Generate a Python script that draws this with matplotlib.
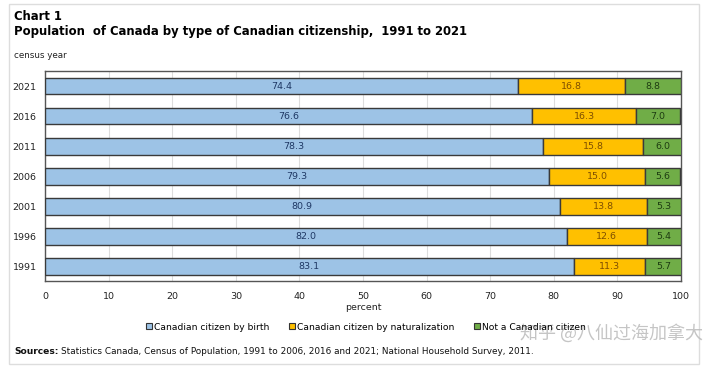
import matplotlib
matplotlib.use("Agg")
import matplotlib.pyplot as plt
from matplotlib.patches import Rectangle
from matplotlib.lines import Line2D

years = ["2021", "2016", "2011", "2006", "2001", "1996", "1991"]
by_birth = [74.4, 76.6, 78.3, 79.3, 80.9, 82.0, 83.1]
by_naturalization = [16.8, 16.3, 15.8, 15.0, 13.8, 12.6, 11.3]
not_citizen = [8.8, 7.0, 6.0, 5.6, 5.3, 5.4, 5.7]
series_names = ["Canadian citizen by birth", "Canadian citizen by naturalization", "Not a Canadian citizen"]
xticks = [0, 10, 20, 30, 40, 50, 60, 70, 80, 90, 100]

colors = ["#9DC3E6", "#FFC000", "#70AD47"]
text_colors = ["#1F3864", "#7F4F00", "#1E3D12"]

plt.rcParams['font.family'] = ['DejaVu Sans']
fig = plt.figure(figsize=(7.2, 3.68), dpi=100)
ax = fig.add_axes([45/720, 1-281/368, (681-45)/720, (281-70.7)/368])

ypos = list(range(len(years)))
left = [0]*len(years)
for vals, c, tc in zip([by_birth, by_naturalization, not_citizen], colors, text_colors):
    bars = ax.barh(ypos, vals, left=left, height=0.555, color=c, edgecolor="#3A3A3A", linewidth=1.0, zorder=3)
    for b, v, l in zip(bars, vals, left):
        ax.text(l + v/2, b.get_y() + b.get_height()/2, f"{v:.1f}", ha="center", va="center",
                fontsize=6.8, color=tc, zorder=4)
    left = [a + b for a, b in zip(left, vals)]

ax.set_xlim(0, 100)
ax.set_ylim(6.48, -0.51)
ax.set_yticks(ypos)
ax.set_yticklabels(years, fontsize=6.8, color="#222222")
ax.set_xticks(xticks)
ax.set_xticklabels([str(t) for t in xticks], fontsize=6.8, color="#222222")
ax.tick_params(length=0, pad=8)
ax.tick_params(axis='y', pad=6)
ax.grid(axis='x', color="#DDDDDD", linewidth=0.8, zorder=0)
for s in ax.spines.values():
    s.set_color("#555555")
    s.set_linewidth(1.0)

fig.text(14/720, 1-16/368, "Chart 1", fontsize=8.4, fontweight="bold", va="center", ha="left")
fig.text(14/720, 1-31/368, "Population  of Canada by type of Canadian citizenship,  1991 to 2021",
         fontsize=8.4, fontweight="bold", va="center", ha="left")
fig.text(14/720, 1-56/368, "census year", fontsize=6.3, va="center", ha="left", color="#222222")
fig.text(363/720, 1-308/368, "percent", fontsize=6.8, va="center", ha="center", color="#222222")

handles = [Line2D([0], [0], marker='s', linestyle='none', markersize=4.5,
                  markerfacecolor=c, markeredgecolor="#333333", markeredgewidth=0.8) for c in colors]
fig.legend(handles, series_names, loc="center", bbox_to_anchor=(366/720, 1-327/368), ncol=3,
           frameon=False, fontsize=6.6, handlelength=0.6, handletextpad=0.2, columnspacing=2.2)

src_bold = fig.text(14/720, 1-352/368, "Sources:", fontsize=6.6, fontweight="bold",
                    va="center", ha="left", color="#111111")
renderer = fig.canvas.get_renderer()
bb = src_bold.get_window_extent(renderer=renderer)
fig.text((bb.x1 + 3)/720, 1-352/368,
         "Statistics Canada, Census of Population, 1991 to 2006, 2016 and 2021; National Household Survey, 2011.",
         fontsize=6.4, va="center", ha="left", color="#111111")

fig.text(611/720, 1-333/368, "知乎 @八仙过海加拿大", fontsize=13, va="center", ha="center",
         color="#BBBBBB", alpha=0.85, family=["Noto Sans CJK SC", "DejaVu Sans"])

fig.patches.append(Rectangle((9/720, 4/368), 690/720, 360/368, transform=fig.transFigure,
                             fill=False, edgecolor="#DDDDDD", linewidth=1.0))

fig.savefig("out.png", dpi=100)
